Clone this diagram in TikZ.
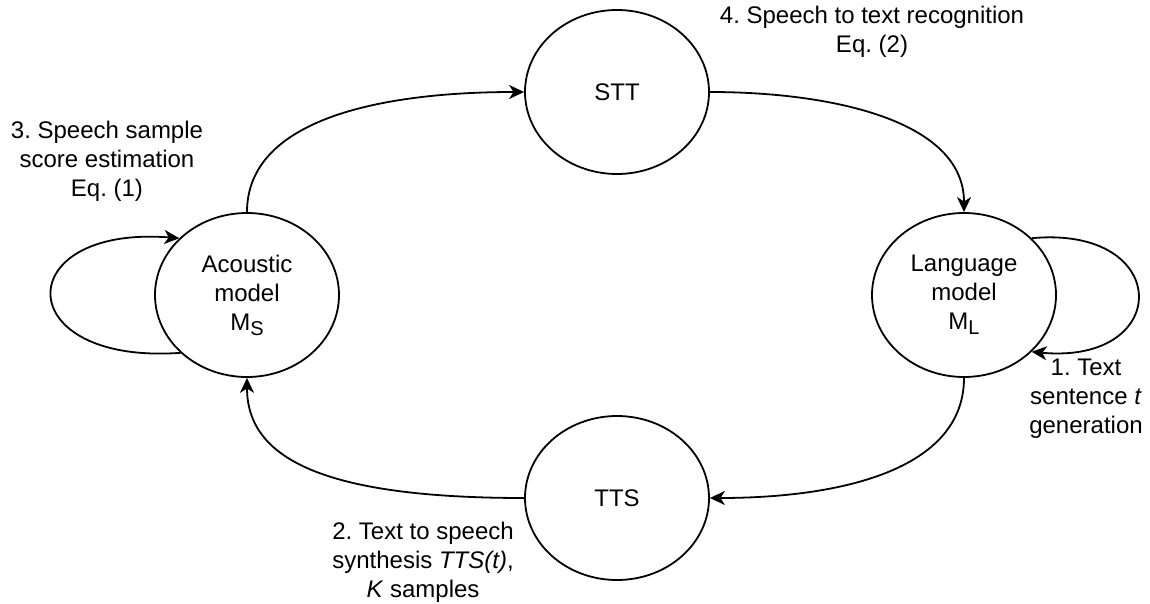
\documentclass[tikz,border=0pt]{standalone}
\usepackage{fontspec}
\setmainfont{Liberation Sans}
\usetikzlibrary{shapes.geometric,arrows.meta}
\frenchspacing

% model symbol with a lowered index
\newcommand{\mdl}[1]{M\raisebox{-0.4ex}{\fontsize{10}{10}\selectfont #1}}

\begin{document}
\begin{tikzpicture}[x=0.5pt, y=-0.5pt,
  state/.style={ellipse, draw, line width=0.9pt, minimum width=92pt, minimum height=82pt,
    inner sep=0pt, align=center, font=\fontsize{12}{14.5}\selectfont},
  flow/.style={line width=0.9pt, -{Stealth[length=7.5pt, width=7pt, inset=2.2pt]}},
  note/.style={align=center, font=\fontsize{12}{14.5}\selectfont}]
\useasboundingbox (0,0) rectangle (1150,604);
% States
\node[state] (acm) at (247,295) {Acoustic\\model\\\mdl{S}};
\node[state] (stt) at (617,92) {STT};
\node[state] (lm) at (964,295) {Language\\model\\\mdl{L}};
\node[state] (tts) at (617,498) {TTS};
% Main cycle
\draw[flow] (acm.north) .. controls (247,118) and (384,92) .. (stt.west);
\draw[flow] (stt.east) .. controls (830,92) and (964,120) .. (lm.north);
\draw[flow] (lm.south) .. controls (964,470) and (840,498) .. (tts.east);
\draw[flow] (tts.west) .. controls (322,498) and (247,458) .. (acm.south);
% Self loops
\draw[flow] (acm.221) .. controls (9,365) and (9,225) .. (acm.140);
\draw[flow] (lm.40) .. controls (1173,225) and (1173,365) .. (lm.-40);
% Step labels
\node[note] (l1) at (1086,399) {1. Text\\sentence \textit{t}\\generation};
\node[note] (l2) at (423,562) {2. Text to speech\\synthesis \textit{TTS(t)},\\\textit{K} samples};
\node[note] (l3) at (107,161) {3. Speech sample\\score estimation\\Eq. (1)};
\node[note] (l4) at (872,32) {4. Speech to text recognition\\Eq. (2)};
\end{tikzpicture}
\end{document}
